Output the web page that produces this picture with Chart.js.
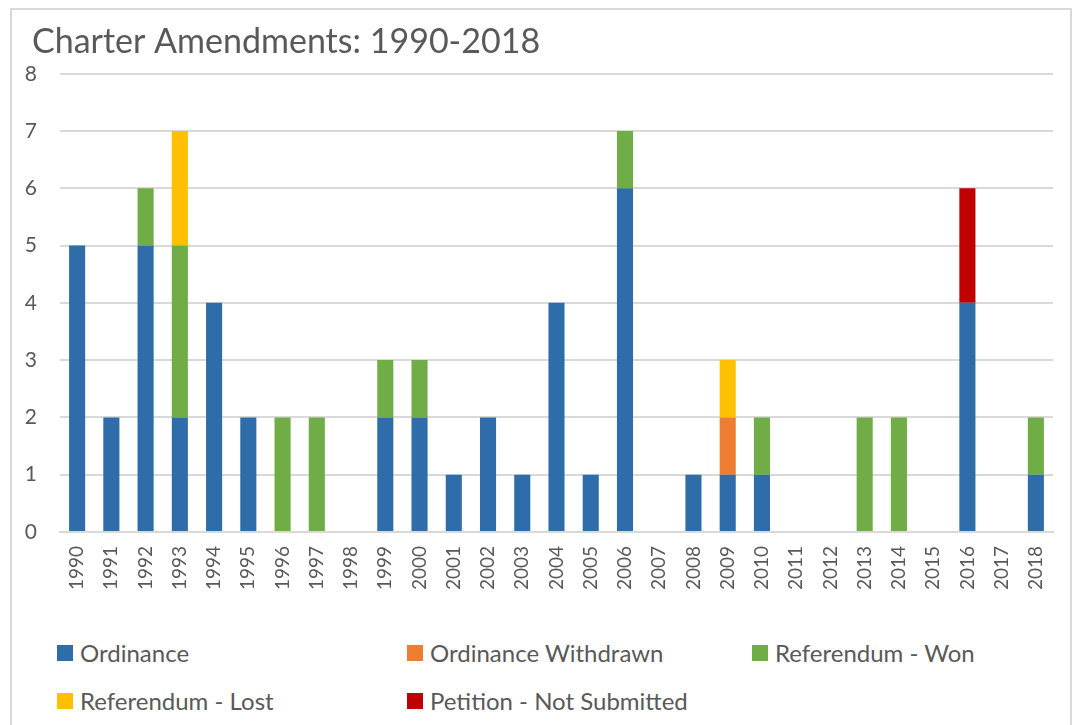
<!DOCTYPE html>
<html>
<head>
<meta charset="utf-8">
<script src="https://cdn.jsdelivr.net/npm/chart.js@4/dist/chart.umd.min.js"></script>
<style>
  html, body { margin: 0; padding: 0; background: #fff; }
  #frame { position: absolute; left: 10px; top: 8px; width: 1062px; height: 740px; border: 2px solid #d9d9d9; box-sizing: border-box; }
  #wrap { position: absolute; left: 0; top: 0; width: 1076px; height: 620px; }
  #legend { position: absolute; left: 57px; top: 638px; width: 1000px; font-family: Lato, sans-serif; font-size: 24px; color: #595959; }
  .lg-item { position: absolute; display: flex; align-items: center; white-space: nowrap; }
  .lg-box { width: 16px; height: 16px; margin-right: 7px; }
</style>
</head>
<body>
<div id="frame"></div>
<div id="wrap"><canvas id="chart" width="1076" height="620"></canvas></div>
<div id="legend"></div>
<script>
const years = ['1990','1991','1992','1993','1994','1995','1996','1997','1998','1999',
  '2000','2001','2002','2003','2004','2005','2006','2007','2008','2009',
  '2010','2011','2012','2013','2014','2015','2016','2017','2018'];

//                    90 91 92 93 94 95 96 97 98 99 00 01 02 03 04 05 06 07 08 09 10 11 12 13 14 15 16 17 18
const ordinance =    [5, 2, 5, 2, 4, 2, 0, 0, 0, 2, 2, 1, 2, 1, 4, 1, 6, 0, 1, 1, 1, 0, 0, 0, 0, 0, 4, 0, 1];
const withdrawn =    [0, 0, 0, 0, 0, 0, 0, 0, 0, 0, 0, 0, 0, 0, 0, 0, 0, 0, 0, 1, 0, 0, 0, 0, 0, 0, 0, 0, 0];
const refWon =       [0, 0, 1, 3, 0, 0, 2, 2, 0, 1, 1, 0, 0, 0, 0, 0, 1, 0, 0, 0, 1, 0, 0, 2, 2, 0, 0, 0, 1];
const refLost =      [0, 0, 0, 2, 0, 0, 0, 0, 0, 0, 0, 0, 0, 0, 0, 0, 0, 0, 0, 1, 0, 0, 0, 0, 0, 0, 0, 0, 0];
const petition =     [0, 0, 0, 0, 0, 0, 0, 0, 0, 0, 0, 0, 0, 0, 0, 0, 0, 0, 0, 0, 0, 0, 0, 0, 0, 0, 2, 0, 0];

const seriesNames = ['Ordinance','Ordinance Withdrawn','Referendum - Won','Referendum - Lost','Petition - Not Submitted'];
const seriesData = [ordinance, withdrawn, refWon, refLost, petition];
const seriesColors = ['#2E6DAA','#ED7D31','#70AD47','#FFC000','#C00000'];

const txt = '#595959';
const font = 'Lato, sans-serif';

const datasets = seriesNames.map((name, i) => ({
  label: name,
  data: seriesData[i],
  backgroundColor: seriesColors[i],
  barPercentage: 0.47,
  categoryPercentage: 1.0
}));

// nudge the title a bit right of the y labels, like the original
const titleShift = {
  id: 'titleShift',
  afterLayout(chart) { if (chart.titleBlock) chart.titleBlock.left += 10; }
};

new Chart(document.getElementById('chart'), {
  type: 'bar',
  data: { labels: years, datasets },
  plugins: [titleShift],
  options: {
    responsive: false,
    animation: false,
    layout: { padding: { left: 22, right: 23, top: 0, bottom: 24 } },
    plugins: {
      legend: { display: false },
      tooltip: { enabled: false },
      title: {
        display: true,
        text: 'Charter Amendments: 1990-2018',
        align: 'start',
        color: txt,
        font: { family: font, size: 34, weight: 'normal' },
        padding: { top: 22, bottom: 11 }
      }
    },
    scales: {
      x: {
        stacked: true,
        grid: { display: false },
        border: { color: '#d9d9d9', width: 2 },
        ticks: { color: txt, font: { family: font, size: 19 }, minRotation: 90, maxRotation: 90, padding: 6, autoSkip: false }
      },
      y: {
        stacked: true,
        min: 0, max: 8,
        afterFit: s => { s.width = 38; },
        grid: { color: '#d9d9d9', lineWidth: 2, drawTicks: false },
        border: { display: false },
        ticks: { stepSize: 1, color: txt, font: { family: font, size: 21 }, padding: 23 }
      }
    }
  }
});

// legend laid out in three columns like the original
const legend = document.getElementById('legend');
const colX = [0, 350, 695];
seriesNames.forEach((name, i) => {
  const item = document.createElement('div');
  item.className = 'lg-item';
  item.style.left = colX[i % 3] + 'px';
  item.style.top = (Math.floor(i / 3) * 48) + 'px';
  item.innerHTML = '<span class="lg-box" style="background:' + seriesColors[i] + '"></span>' + name;
  legend.appendChild(item);
});
</script>
</body>
</html>
